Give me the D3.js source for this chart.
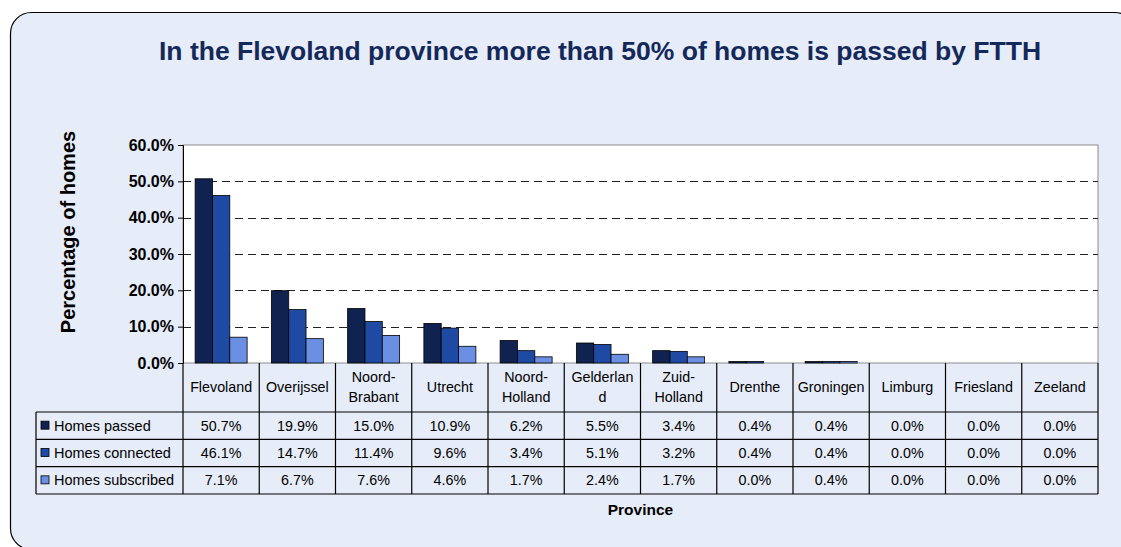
<!DOCTYPE html>
<html>
<head>
<meta charset="utf-8">
<script src="https://cdn.jsdelivr.net/npm/d3@7"></script>
<style>
  body { margin: 0; background: #fff; }
  svg { font-family: "Liberation Sans", Arial, sans-serif; }
</style>
</head>
<body>
<div id="chart"></div>
<script>
const provinces = ["Flevoland", "Overijssel", "Noord-Brabant", "Utrecht", "Noord-Holland", "Gelderland",
    "Zuid-Holland", "Drenthe", "Groningen", "Limburg", "Friesland", "Zeeland"];
// header labels as they wrap in the table
const provinceLabels = [["Flevoland"], ["Overijssel"], ["Noord-", "Brabant"], ["Utrecht"], ["Noord-", "Holland"],
    ["Gelderlan", "d"], ["Zuid-", "Holland"], ["Drenthe"], ["Groningen"], ["Limburg"], ["Friesland"], ["Zeeland"]];

const seriesNames = ["Homes passed", "Homes connected", "Homes subscribed"];
const homesPassed = [50.7, 19.9, 15.0, 10.9, 6.2, 5.5, 3.4, 0.4, 0.4, 0.0, 0.0, 0.0];
const homesConnected = [46.1, 14.7, 11.4, 9.6, 3.4, 5.1, 3.2, 0.4, 0.4, 0.0, 0.0, 0.0];
const homesSubscribed = [7.1, 6.7, 7.6, 4.6, 1.7, 2.4, 1.7, 0.0, 0.4, 0.0, 0.0, 0.0];
const yTicks = [0, 10, 20, 30, 40, 50, 60];
const colors = ["#0f2250", "#1f4aa3", "#6b8fe3"];

const series = [homesPassed, homesConnected, homesSubscribed];

const width = 1121, height = 547;
const plot = { left: 183, right: 1098, top: 145, bottom: 363 };
const table = { left: 36, headerBottom: 412, bottom: 494 };

const svg = d3.select("#chart")
    .append("svg")
    .attr("width", width)
    .attr("height", height);

// panel background (runs off the right and bottom edge, as in the original)
svg.append("rect")
    .attr("x", 10.5).attr("y", 12.5)
    .attr("width", 1125).attr("height", 537)
    .attr("rx", 21).attr("ry", 21)
    .attr("fill", "#e6ecf8")
    .attr("stroke", "#000")
    .attr("stroke-width", 1.2);

svg.append("text")
    .attr("x", 600).attr("y", 60)
    .attr("text-anchor", "middle")
    .attr("font-size", 26.5)
    .attr("font-weight", "bold")
    .attr("fill", "#14285a")
    .text("In the Flevoland province more than 50% of homes is passed by FTTH");

const x = d3.scaleBand()
    .domain(provinces)
    .range([plot.left, plot.right]);

const xSeries = d3.scaleBand()
    .domain(seriesNames)
    .range([0, x.bandwidth()])
    .paddingOuter(0.7)
    .paddingInner(0);

const y = d3.scaleLinear()
    .domain([0, 60])
    .range([plot.bottom, plot.top]);

// plot area
svg.append("rect")
    .attr("x", plot.left).attr("y", plot.top)
    .attr("width", plot.right - plot.left)
    .attr("height", plot.bottom - plot.top)
    .attr("fill", "#fff")
    .attr("stroke", "#8c8c8c")
    .attr("stroke-width", 1);

// dashed gridlines
svg.append("g")
    .selectAll("line")
    .data(yTicks.filter(t => t > 0 && t < 60))
    .join("line")
    .attr("x1", plot.left).attr("x2", plot.right)
    .attr("y1", d => Math.round(y(d)) + 0.5).attr("y2", d => Math.round(y(d)) + 0.5)
    .attr("stroke", "#222")
    .attr("stroke-dasharray", "8,5");

// bars
svg.append("g")
    .selectAll("g")
    .data(series)
    .join("g")
    .attr("fill", (d, i) => colors[i])
    .selectAll("rect")
    .data((d, i) => d.map((v, j) => ({ v, p: provinces[j], s: seriesNames[i] })))
    .join("rect")
    .attr("x", d => x(d.p) + xSeries(d.s))
    .attr("y", d => y(d.v))
    .attr("width", xSeries.bandwidth())
    .attr("height", d => y(0) - y(d.v))
    .attr("stroke", "#000")
    .attr("stroke-width", 0.8);

// y axis
const yAxis = d3.axisLeft(y)
    .tickValues(yTicks)
    .tickSize(5)
    .tickFormat(d => d.toFixed(1) + "%");

svg.append("g")
    .attr("transform", `translate(${plot.left},0)`)
    .call(yAxis)
    .call(g => g.select(".domain").attr("stroke", "#000"))
    .call(g => g.selectAll("text")
        .attr("font-size", 16)
        .attr("font-weight", "bold")
        .attr("fill", "#000")
        .attr("font-family", "Liberation Sans, Arial, sans-serif")
        .attr("dx", -1));

svg.append("text")
    .attr("transform", "translate(75,232) rotate(-90)")
    .attr("text-anchor", "middle")
    .attr("font-size", 20)
    .attr("font-weight", "bold")
    .attr("fill", "#000")
    .text("Percentage of homes");

// data table
const rowY = d3.scaleBand()
    .domain(seriesNames)
    .range([table.headerBottom, table.bottom]);

const tbl = svg.append("g")
    .attr("stroke", "#000")
    .attr("stroke-width", 1.2)
    .attr("fill", "none");

// vertical column lines
tbl.selectAll(".vline")
    .data(provinces.map(p => x(p)).concat([plot.right]))
    .join("line")
    .attr("x1", d => d).attr("x2", d => d)
    .attr("y1", plot.bottom).attr("y2", table.bottom);

tbl.append("line")
    .attr("x1", table.left).attr("x2", table.left)
    .attr("y1", table.headerBottom).attr("y2", table.bottom);

// horizontal row lines
tbl.selectAll(".hline")
    .data(seriesNames.map(s => rowY(s)).concat([table.bottom]))
    .join("line")
    .attr("x1", table.left).attr("x2", plot.right)
    .attr("y1", d => d).attr("y2", d => d);

// header labels
svg.append("g")
    .selectAll("text")
    .data(provinces)
    .join("text")
    .attr("text-anchor", "middle")
    .attr("font-size", 14.3)
    .attr("fill", "#000")
    .attr("x", d => x(d) + x.bandwidth() / 2)
    .attr("y", (d, i) => provinceLabels[i].length > 1 ? 382 : 392)
    .selectAll("tspan")
    .data((d, i) => provinceLabels[i])
    .join("tspan")
    .attr("x", function () { return d3.select(this.parentNode).attr("x"); })
    .attr("dy", (d, i) => i === 0 ? 0 : 20)
    .text(d => d);

// legend keys and row labels
const rows = svg.append("g")
    .selectAll("g")
    .data(seriesNames)
    .join("g")
    .attr("transform", d => `translate(0,${rowY(d) + rowY.bandwidth() / 2})`);

rows.append("rect")
    .attr("x", 41).attr("y", -4.5)
    .attr("width", 8).attr("height", 8)
    .attr("fill", (d, i) => colors[i])
    .attr("stroke", "#000")
    .attr("stroke-width", 0.8);

rows.append("text")
    .attr("x", 54).attr("y", 5)
    .attr("font-size", 14.5)
    .attr("fill", "#000")
    .text(d => d);

rows.selectAll(".val")
    .data((d, i) => series[i].map((v, j) => ({ v, p: provinces[j] })))
    .join("text")
    .attr("text-anchor", "middle")
    .attr("font-size", 14.3)
    .attr("fill", "#000")
    .attr("x", d => x(d.p) + x.bandwidth() / 2)
    .attr("y", 5)
    .text(d => d.v.toFixed(1) + "%");

svg.append("text")
    .attr("x", (plot.left + plot.right) / 2)
    .attr("y", 515)
    .attr("text-anchor", "middle")
    .attr("font-size", 15.5)
    .attr("font-weight", "bold")
    .attr("fill", "#000")
    .text("Province");
</script>
</body>
</html>
